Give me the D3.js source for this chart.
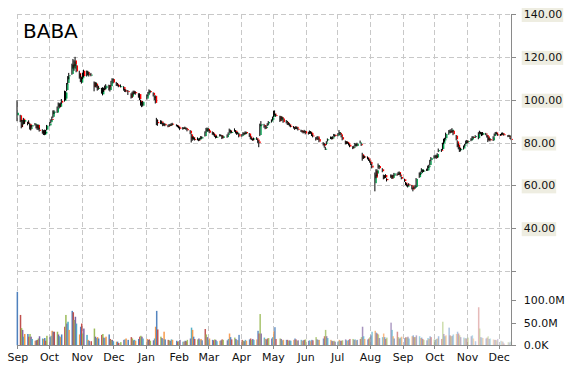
<!DOCTYPE html>
<meta charset="utf-8">
<style>
  body { margin: 0; background: #fff; }
  svg { display: block; }
  .grid line { stroke: #c8c8c8; stroke-width: 1; stroke-dasharray: 5,3; shape-rendering: crispEdges; }
  .axis line { stroke: #8a8a8a; shape-rendering: crispEdges; }
  .axis path { display: none; }
  .axis text { font: 11px "DejaVu Sans", sans-serif; fill: #111; }
  .title { font: 20px "DejaVu Sans", sans-serif; fill: #000; }
</style>
<svg width="570" height="370"></svg>
<script src="https://cdn.jsdelivr.net/npm/d3@7"></script>
<script>
  // one row per trading day: [day, open, high, low, close, volume (M)]
  const sep2014 = [
    [19,92.70,99.70,89.95,93.89,118],[22,92.70,92.95,89.50,89.89,67],[23,88.50,90.48,86.62,87.17,38],
    [24,88.47,90.57,87.22,90.57,34],[25,91.09,91.50,88.50,88.92,19],[26,89.73,90.46,88.66,90.46,25],
    [29,89.62,89.70,88.02,88.75,25],[30,88.70,90.38,88.61,88.85,19]
  ];
  const oct2014 = [
    [1,88.70,88.94,86.04,86.10,25],[2,86.27,88.20,85.62,87.06,19],[3,87.50,88.24,87.00,88.10,14],
    [6,88.51,89.10,87.91,88.85,10],[7,88.20,88.53,86.57,86.84,11],[8,86.50,88.50,85.94,88.30,12],
    [9,88.25,88.32,85.80,86.26,15],[10,85.93,86.95,85.08,85.60,20],[13,85.40,86.20,84.10,84.50,15],
    [14,84.90,85.80,83.50,84.20,14],[15,83.60,86.00,83.40,85.80,16],[16,84.20,85.90,83.80,85.00,10],
    [17,86.00,88.20,85.70,87.91,21],[20,88.00,89.50,87.60,88.90,18],[21,89.50,90.80,89.10,90.60,21],
    [22,91.00,92.10,90.30,90.90,32],[23,92.00,95.00,91.50,94.50,30],[24,94.20,95.10,93.30,94.40,30],
    [27,94.00,96.80,93.80,96.30,30],[28,96.90,98.70,96.30,97.90,24],[29,98.00,98.40,95.90,96.60,20],
    [30,96.70,98.70,96.40,98.30,18],[31,99.50,100.30,97.90,98.60,24]
  ];
  const nov2014 = [
    [3,99.50,104.20,99.10,103.70,41],[4,100.50,104.00,99.80,103.30,67],[5,104.50,107.80,104.00,107.40,48],
    [6,107.80,111.00,107.20,110.80,52],[7,111.00,112.50,109.50,111.40,34],[10,112.00,116.80,111.60,116.20,76],
    [11,116.50,119.00,114.50,115.00,73],[12,114.50,118.40,113.50,117.80,56],[13,118.30,120.00,115.80,116.50,63],
    [14,116.00,116.50,112.80,113.20,48],[17,112.50,113.50,109.80,110.50,24],[18,110.80,112.00,108.20,108.60,41],
    [19,108.00,110.50,107.50,110.10,48],[20,110.00,112.60,109.60,112.20,26],[21,113.50,114.00,110.60,111.00,37],
    [24,111.40,113.60,110.80,113.20,23],[25,113.00,113.50,111.30,112.00,12],[26,112.00,112.80,110.80,111.40,10],
    [28,111.60,112.50,110.90,111.70,9]
  ];
  const dec2014 = [
    [1,108.00,108.50,103.90,106.00,37],[2,106.50,108.30,105.80,107.90,19],[3,107.50,108.00,105.60,106.50,16],
    [4,106.20,106.80,104.20,105.20,18],[5,105.40,106.50,104.60,105.50,15],[8,104.80,105.50,102.80,104.00,23],
    [9,102.50,105.80,102.00,105.30,25],[10,105.00,105.60,103.60,104.40,17],[11,104.80,106.60,104.50,105.60,16],
    [12,105.40,107.20,104.90,106.50,19],[15,106.80,107.00,104.30,104.80,24],[16,104.50,106.80,103.80,106.00,14],
    [17,106.30,108.80,106.00,108.50,12],[18,109.20,110.00,108.40,109.50,12],[19,109.60,109.90,107.60,108.00,9],
    [22,107.80,108.30,106.40,107.00,8],[23,107.20,107.80,106.30,106.60,8],[24,106.80,107.00,105.80,106.10,5],
    [26,106.20,107.10,105.70,106.30,7],[29,105.90,106.30,104.20,104.50,12],[30,104.40,105.00,103.60,104.10,13],
    [31,104.30,104.80,103.50,103.90,15]
  ];
  const jan2015 = [
    [2,104.00,104.50,102.20,103.60,12],[5,102.80,103.00,100.50,101.00,18],[6,101.40,103.70,100.80,103.30,15],
    [7,103.80,104.20,102.40,102.90,11],[8,103.50,104.20,102.60,103.00,12],[9,103.50,104.00,102.30,103.00,10],
    [12,102.50,103.00,100.90,101.50,14],[13,102.60,103.00,99.80,100.30,19],[14,99.50,100.00,97.20,98.00,21],
    [15,98.60,99.00,96.50,97.50,19],[16,97.20,99.40,96.80,99.00,15],[20,100.50,102.40,100.00,102.00,14],
    [21,102.10,103.60,101.60,103.20,12],[22,103.50,104.80,102.90,104.20,13],[23,104.00,104.40,103.00,103.50,10],
    [26,103.20,103.40,101.50,102.10,11],[27,101.20,102.00,99.80,101.00,15],[28,101.80,102.00,98.20,98.50,41],
    [29,90.50,91.50,88.10,89.80,76],[30,89.60,90.80,87.80,89.00,35]
  ];
  const feb2015 = [
    [2,89.20,90.40,88.60,89.50,19],[3,89.80,90.20,88.50,89.00,16],[4,88.70,89.10,87.60,88.00,14],
    [5,88.10,89.20,87.80,88.60,30],[6,88.70,89.00,87.60,88.00,13],[9,87.80,88.30,87.10,87.60,12],
    [10,87.80,88.60,87.40,88.20,11],[11,88.30,88.70,87.60,88.00,10],[12,88.10,89.00,87.80,88.60,13],
    [13,88.80,89.20,88.00,88.40,12],[17,88.20,88.50,87.50,88.00,10],[18,87.90,88.20,87.10,87.50,8],
    [19,87.40,87.80,86.60,87.00,9],[20,87.00,87.30,85.90,86.40,12],[23,86.30,87.20,86.00,86.80,8],
    [24,86.90,87.10,86.20,86.60,8],[25,86.50,87.40,86.30,86.90,10],[26,86.80,87.00,85.90,86.40,9],
    [27,86.30,86.50,85.20,85.70,12]
  ];
  const mar2015 = [
    [2,85.50,85.80,83.90,84.20,15],[3,83.80,84.00,80.00,81.80,39],[4,81.50,82.80,80.80,82.40,34],
    [5,82.50,82.90,81.30,81.70,19],[6,81.60,82.20,80.90,81.30,14],[9,81.50,82.40,81.00,81.90,13],
    [10,81.40,81.80,80.60,81.20,15],[11,81.30,82.20,80.90,81.80,12],[12,82.00,83.00,81.60,82.50,14],
    [13,82.30,82.90,81.70,82.40,11],[16,83.00,85.20,82.80,84.90,36],[17,85.00,86.80,84.70,86.20,24],
    [18,86.00,87.00,85.20,86.60,18],[19,86.40,86.70,85.10,85.40,13],[20,85.60,85.90,84.30,84.60,15],
    [23,84.80,85.20,83.60,84.00,12],[24,84.10,84.80,83.30,83.70,11],[25,83.80,84.20,82.60,83.00,13],
    [26,82.70,83.10,81.90,82.50,12],[27,82.60,83.30,82.20,82.70,9],[30,83.00,83.90,82.80,83.50,10],
    [31,83.40,83.80,82.90,83.20,11]
  ];
  const apr2015 = [
    [1,83.00,83.30,81.60,82.00,13],[2,82.10,83.40,81.90,82.90,12],[6,82.50,83.80,82.20,83.40,11],
    [7,83.60,84.70,83.30,84.30,14],[8,84.80,86.50,84.50,85.90,26],[9,85.60,86.00,84.20,84.70,18],
    [10,84.80,85.50,84.30,84.90,13],[13,85.20,86.60,85.00,85.70,17],[14,85.50,85.80,84.20,84.60,14],
    [15,84.60,84.90,83.60,84.00,12],[16,84.10,85.00,83.80,84.50,11],[17,84.00,84.20,82.40,82.80,23],
    [20,83.00,83.90,82.70,83.50,12],[21,83.80,84.80,83.50,84.40,10],[22,84.50,84.70,83.40,83.90,9],
    [23,83.90,85.20,83.70,84.80,12],[24,84.90,85.10,84.00,84.30,10],[27,84.20,84.40,82.60,83.00,13],
    [28,82.90,83.20,81.50,81.90,15],[29,81.80,82.30,81.20,81.70,12],[30,81.50,81.90,80.80,81.30,14]
  ];
  const may2015 = [
    [1,81.40,82.30,81.00,81.90,12],[4,82.00,82.50,81.20,81.60,13],[5,81.40,81.70,79.80,80.60,32],
    [6,80.50,80.90,77.80,79.70,26],[7,83.50,88.80,83.00,88.30,69],[8,88.50,90.00,87.60,88.50,26],
    [11,88.20,88.70,86.90,87.50,17],[12,87.00,87.80,86.20,86.90,14],[13,87.20,88.00,86.50,87.20,13],
    [14,88.00,89.00,87.60,88.60,15],[15,88.90,90.00,88.40,89.60,16],[18,89.80,90.80,89.30,90.30,15],
    [19,90.60,92.10,90.20,91.60,18],[20,92.00,94.80,91.70,93.10,31],[21,93.50,95.00,92.60,93.00,40],
    [22,92.80,93.40,92.00,92.60,14],[26,92.20,92.50,89.60,90.00,15],[27,90.30,92.40,90.00,92.00,14],
    [28,91.80,92.10,90.80,91.30,11],[29,91.20,91.50,89.20,89.50,12]
  ];
  const jun2015 = [
    [1,89.80,90.50,88.90,90.00,12],[2,89.60,90.10,88.20,88.50,12],[3,88.60,89.40,88.10,88.90,10],
    [4,88.50,89.00,87.50,87.90,11],[5,87.80,88.20,87.10,87.60,10],[8,87.30,87.70,86.50,87.00,12],
    [9,86.80,87.20,85.90,86.30,15],[10,86.60,87.60,86.30,87.20,13],[11,87.30,87.50,86.20,86.60,10],
    [12,86.40,86.80,85.60,86.00,11],[15,85.60,86.00,84.90,85.50,12],[16,85.40,85.80,84.60,85.00,10],
    [17,85.10,85.50,84.20,84.70,11],[18,84.80,85.90,84.50,85.40,12],[19,85.30,85.50,83.80,84.20,13],
    [22,84.60,85.00,83.70,84.10,10],[23,84.30,85.60,84.00,85.20,11],[24,85.00,85.30,84.10,84.60,9],
    [25,84.50,84.80,83.00,83.40,12],[26,83.30,83.70,82.40,82.90,11],[29,81.80,82.50,80.90,81.60,18],
    [30,82.00,82.80,81.50,82.30,13]
  ];
  const jul2015 = [
    [1,82.80,83.00,81.20,81.50,12],[2,81.60,81.90,80.10,80.40,12],[6,79.20,80.20,78.60,79.00,15],
    [7,79.30,79.80,77.60,78.50,20],[8,77.00,78.00,76.50,77.10,34],[9,79.50,80.60,78.90,80.00,20],
    [10,81.00,81.90,80.40,81.50,16],[13,82.00,82.80,81.60,82.30,12],[14,82.40,82.70,81.40,81.80,10],
    [15,81.90,82.90,81.50,82.50,9],[16,83.00,84.00,82.70,83.50,10],[17,83.60,83.90,82.60,83.00,8],
    [20,83.20,84.40,82.90,84.00,9],[21,84.20,85.80,83.90,84.80,12],[22,84.50,84.90,83.50,83.90,10],
    [23,83.80,84.10,82.40,82.70,10],[24,82.50,82.80,81.00,81.40,11],[27,80.50,80.90,79.10,79.50,13],
    [28,79.60,80.60,79.20,80.20,11],[29,80.30,80.50,79.40,79.80,10],[30,79.70,79.90,78.60,79.00,12],
    [31,78.90,79.20,77.80,78.10,14]
  ];
  const aug2015 = [
    [3,77.80,78.30,76.90,77.50,14],[4,77.60,78.50,77.20,78.00,12],[5,78.40,79.80,78.10,79.30,13],
    [6,79.20,79.50,78.10,78.60,11],[7,78.40,79.90,78.20,79.50,12],[10,80.00,80.90,79.60,80.00,14],
    [11,79.20,79.60,78.40,78.80,18],[12,74.50,75.20,71.50,72.50,41],[13,72.80,74.00,72.30,73.40,20],
    [14,73.50,73.90,72.70,73.20,14],[17,73.00,73.50,72.10,72.80,13],[18,72.50,72.90,71.40,71.90,15],
    [19,71.60,72.00,70.60,71.30,18],[20,70.90,71.20,69.40,69.80,22],[21,69.20,70.00,67.90,68.30,30],
    [24,61.00,66.00,57.20,65.00,32],[25,66.80,67.50,63.30,63.60,28],[26,65.50,67.50,64.20,67.00,26],
    [27,68.50,70.20,67.80,69.40,24],[28,69.00,69.40,67.50,68.00,16],[31,67.50,68.00,66.10,66.60,18]
  ];
  const sep2015 = [
    [1,64.50,65.00,62.80,63.50,26],[2,63.80,64.80,63.10,64.50,18],[3,64.80,65.20,63.40,63.70,14],
    [4,63.00,63.30,61.80,62.40,17],[8,64.50,65.10,63.50,63.90,50],[9,64.60,65.00,63.00,63.20,34],
    [10,63.40,64.90,63.10,64.60,20],[11,64.50,65.80,64.20,65.60,15],[14,65.30,65.60,64.40,64.80,30],
    [15,65.10,66.30,64.90,65.90,18],[16,66.20,66.50,64.80,65.10,15],[17,65.00,65.70,64.00,64.40,17],
    [18,63.90,64.20,62.80,63.10,19],[21,62.80,63.10,61.60,62.00,16],[22,61.30,61.60,60.10,60.50,18],
    [23,60.40,61.00,59.50,60.10,17],[24,59.60,60.40,59.00,59.80,19],[25,60.50,61.00,59.70,60.30,15],
    [28,60.00,60.20,58.10,58.40,20],[29,58.50,58.90,57.20,58.00,22],[30,58.80,59.50,58.30,59.00,18]
  ];
  const oct2015 = [
    [1,59.20,60.20,58.50,59.50,18],[2,59.30,63.40,59.00,63.00,22],[5,63.80,66.00,63.50,65.50,20],
    [6,65.20,66.40,64.80,66.00,16],[7,66.50,68.00,66.10,67.50,17],[8,67.00,67.30,65.80,66.60,14],
    [9,66.80,67.40,66.20,66.90,12],[12,67.10,67.80,66.70,67.40,11],[13,67.00,69.20,66.80,68.70,16],
    [14,68.50,69.60,68.10,69.00,14],[15,69.50,71.90,69.20,71.50,20],[16,71.80,73.20,71.30,72.80,18],
    [19,72.90,74.00,72.40,73.50,13],[20,73.40,74.20,72.80,73.80,12],[21,73.90,74.30,72.30,72.80,14],
    [22,73.00,75.00,72.70,74.60,15],[23,76.00,77.20,75.50,76.40,20],[26,76.60,77.00,75.60,76.20,14],
    [27,77.00,79.90,76.50,79.50,52],[28,79.60,81.80,79.20,81.40,25],[29,81.00,82.20,80.40,81.60,20],
    [30,82.00,84.60,81.60,84.00,22]
  ];
  const nov2015 = [
    [2,84.20,85.80,83.60,85.10,39],[3,85.30,86.00,84.60,85.00,22],[4,85.40,86.20,84.40,84.70,20],
    [5,85.00,86.70,84.60,86.00,21],[6,85.50,85.80,83.40,83.90,24],[9,83.20,83.50,81.00,81.50,25],
    [10,80.50,81.00,77.80,78.50,30],[11,79.00,79.50,76.80,77.60,26],[12,77.40,78.00,75.60,76.50,22],
    [13,76.40,77.60,75.80,77.00,18],[16,77.20,78.60,76.70,78.20,17],[17,78.50,79.40,78.00,79.00,15],
    [18,79.40,80.90,79.10,80.50,16],[19,80.80,81.20,79.60,80.00,14],[20,80.30,81.00,79.80,80.70,17],
    [23,81.00,82.00,80.60,81.60,20],[24,81.40,82.90,81.00,82.50,22],[25,82.60,83.00,81.90,82.30,15],
    [27,82.50,83.40,82.10,83.00,9],[30,82.00,84.80,81.50,84.00,84]
  ];
  const dec2015 = [
    [1,84.50,85.50,84.00,84.80,37],[2,84.60,85.00,83.80,84.20,18],[3,84.30,84.80,83.00,83.50,17],
    [4,83.60,84.90,83.30,84.40,16],[7,84.20,84.50,83.40,83.90,15],[8,83.50,83.70,82.30,82.80,17],
    [9,82.90,83.20,80.20,81.00,20],[10,81.20,82.40,80.90,81.90,14],[11,81.60,81.90,80.50,81.00,15],
    [14,81.00,82.90,80.70,82.50,13],[15,83.00,84.20,82.70,83.80,12],[16,84.00,84.90,83.60,84.50,12],
    [17,84.70,85.00,83.70,84.00,11],[18,83.80,84.20,83.10,83.50,14],[21,83.70,84.00,83.10,83.60,10],
    [22,83.70,84.60,83.40,84.30,9],[23,84.40,84.70,83.60,83.90,8],[24,83.90,84.10,83.20,83.40,4],
    [28,83.20,83.50,82.50,82.90,7],[29,83.00,83.60,82.70,83.20,6],[30,83.10,83.30,81.60,81.80,8],
    [31,81.70,82.10,81.10,81.30,8]
  ];

  const monthKeys = ["2014-09","2014-10","2014-11","2014-12","2015-01","2015-02","2015-03","2015-04",
                     "2015-05","2015-06","2015-07","2015-08","2015-09","2015-10","2015-11","2015-12"];
  const monthRows = [sep2014, oct2014, nov2014, dec2014, jan2015, feb2015, mar2015, apr2015,
                     may2015, jun2015, jul2015, aug2015, sep2015, oct2015, nov2015, dec2015];

  const xTickDates = ["2014-09-19","2014-10-19","2014-11-19","2014-12-19","2015-01-19","2015-02-19",
                      "2015-03-19","2015-04-19","2015-05-19","2015-06-19","2015-07-19","2015-08-19",
                      "2015-09-19","2015-10-19","2015-11-19","2015-12-19"];
  const priceTicks = [20, 40, 60, 80, 100, 120, 140];
  const priceLabels = ["", "40.00", "60.00", "80.00", "100.00", "120.00", "140.00"];
  const volTicks = [0, 50, 100];
  const volLabels = ["0.0K", "50.0M", "100.0M"];
  const volColors = ["#4F81BD", "#C0504D", "#9BBB59", "#8064A2", "#4BACC6", "#F79646"];

  const parseDay = d3.timeParse("%Y-%m-%d");
  const candles = monthRows.flatMap((rows, i) => rows.map(r => ({
    date: parseDay(monthKeys[i] + "-" + String(r[0]).padStart(2, "0")),
    open: r[1], high: r[2], low: r[3], close: r[4], volume: r[5]
  })));
  const ticks = xTickDates.map(parseDay);

  const plotLeft = 17.3, plotRight = 511.7, plotTop = 14, priceBottom = 271, volBottom = 345.3;

  const svg = d3.select("svg");

  const x = d3.scaleTime()
    .domain([ticks[0], ticks[ticks.length - 1]])
    .range([17.3, 498.7]);
  const yP = d3.scaleLinear().domain([20, 140]).range([priceBottom, plotTop]);
  const yV = d3.scaleLinear().domain([0, 100]).range([volBottom, 300]);

  // grid
  const grid = svg.append("g").attr("class", "grid");
  grid.selectAll(".gx").data(ticks).enter().append("line")
    .attr("x1", d => Math.round(x(d)) + 0.5).attr("x2", d => Math.round(x(d)) + 0.5)
    .attr("y1", plotTop).attr("y2", volBottom);
  grid.selectAll(".gy").data(priceTicks).enter().append("line")
    .attr("x1", plotLeft).attr("x2", plotRight)
    .attr("y1", d => Math.round(yP(d)) + 0.5).attr("y2", d => Math.round(yP(d)) + 0.5);

  // volume bars, fading towards the right
  const n = candles.length;
  svg.append("g").selectAll("rect").data(candles).enter().append("rect")
    .attr("x", d => x(d.date) - 0.7)
    .attr("width", 1.5)
    .attr("y", d => yV(d.volume))
    .attr("height", d => yV(0) - yV(d.volume))
    .attr("fill", (d, i) => volColors[i % volColors.length])
    .attr("fill-opacity", (d, i) => 1 - 0.72 * Math.pow(i / (n - 1), 2.4));

  // candles
  const cg = svg.append("g");
  cg.selectAll("rect").data(candles).enter().append("rect")
    .attr("x", d => x(d.date) + 0.2)
    .attr("width", 1.4)
    .attr("y", d => yP(Math.max(d.open, d.close)))
    .attr("height", d => Math.max(1, Math.abs(yP(d.open) - yP(d.close))))
    .attr("fill", d => d.close >= d.open ? "#00a651" : "#ff0000");
  cg.selectAll("line").data(candles).enter().append("line")
    .attr("x1", d => x(d.date) - 0.3).attr("x2", d => x(d.date) - 0.3)
    .attr("y1", d => yP(d.high)).attr("y2", d => yP(d.low))
    .attr("stroke", "#000").attr("stroke-width", 1);

  // axes
  const axisG = svg.append("g").attr("class", "axis");
  axisG.append("line")
    .attr("x1", plotRight).attr("x2", plotRight).attr("y1", plotTop).attr("y2", volBottom);
  axisG.append("line")
    .attr("x1", plotLeft).attr("x2", plotRight).attr("y1", volBottom).attr("y2", volBottom);

  svg.append("g").attr("class", "axis")
    .attr("transform", "translate(" + plotRight + ",0)")
    .call(d3.axisRight(yP).tickValues(priceTicks).tickSize(4).tickPadding(8)
      .tickFormat((d, i) => priceLabels[i]))
    .selectAll("text")
    .each(function() {
      if (!this.textContent) return;
      const bb = this.getBBox();
      d3.select(this.parentNode).insert("rect", "text")
        .attr("x", bb.x - 2).attr("y", bb.y)
        .attr("width", bb.width + 3).attr("height", bb.height + 1)
        .attr("fill", "#eeede1");
    });

  svg.append("g").attr("class", "axis")
    .attr("transform", "translate(" + plotRight + ",0)")
    .call(d3.axisRight(yV).tickValues(volTicks).tickSize(4).tickPadding(8)
      .tickFormat((d, i) => volLabels[i]));

  svg.append("g").attr("class", "axis")
    .attr("transform", "translate(0," + volBottom + ")")
    .call(d3.axisBottom(x).tickValues(ticks).tickSize(4).tickPadding(4)
      .tickFormat(d3.timeFormat("%b")));

  svg.append("text").attr("class", "title")
    .attr("x", 23).attr("y", 38).text("BABA");
</script>
